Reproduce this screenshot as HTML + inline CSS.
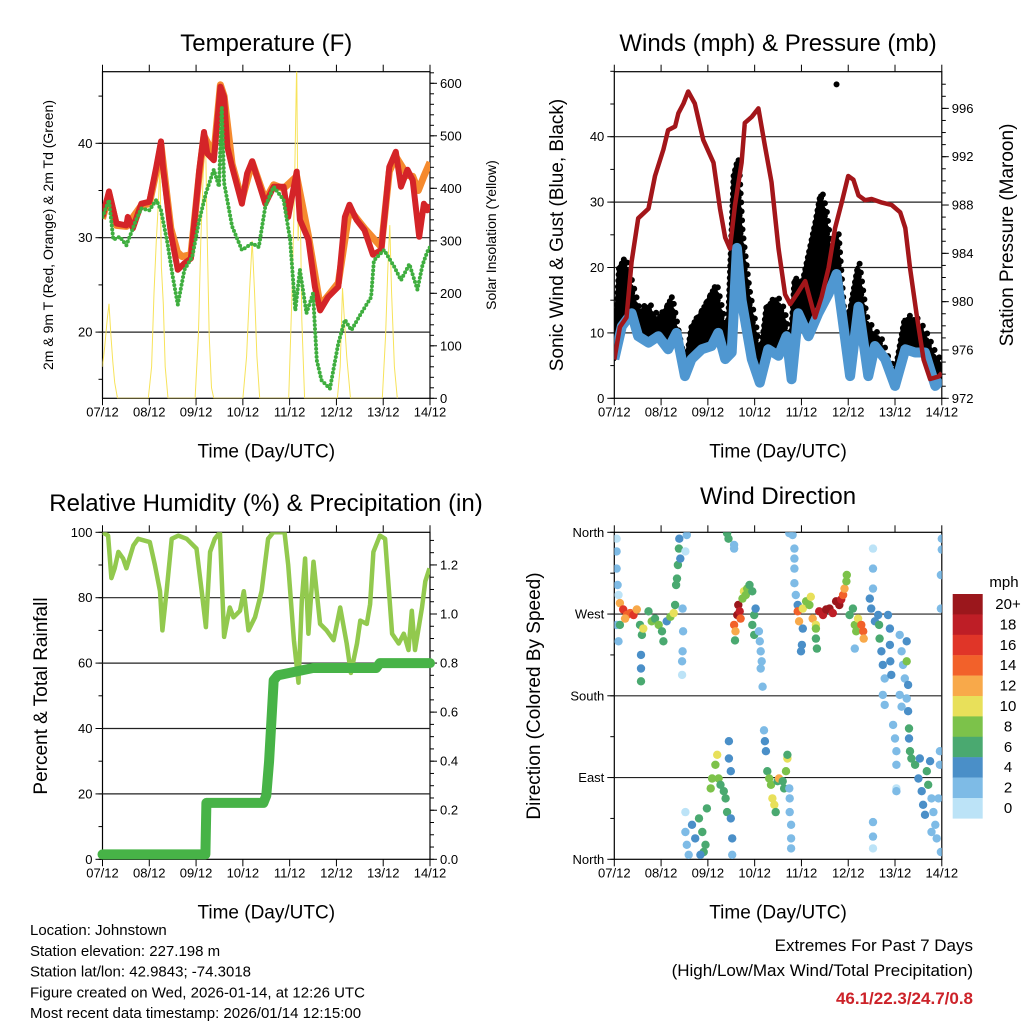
<!DOCTYPE html>
<html><head><meta charset="utf-8"><style>
html,body{margin:0;padding:0;background:#fff;}
svg{display:block;font-family:"Liberation Sans",sans-serif;}
</style></head><body>
<svg id="root" width="1024" height="1024" viewBox="0 0 1024 1024">
<g id="layer"></g>
</svg>
<script>
// ---------- DATA (days since 07/12) ----------
const dayLabels = ["07/12","08/12","09/12","10/12","11/12","12/12","13/12","14/12"];
// Temperature
const t2Days = [0,0.14,0.3,0.51,0.54,0.65,0.83,1.0,1.15,1.25,1.29,1.46,1.61,1.75,1.89,2.07,2.17,2.24,2.38,2.52,2.6,2.67,2.77,2.98,3.09,3.2,3.34,3.48,3.66,3.87,3.97,4.15,4.22,4.4,4.54,4.65,4.82,5.04,5.18,5.28,5.43,5.6,5.78,5.96,6.13,6.27,6.38,6.52,6.63,6.77,6.87,6.94,7.0];
const t2Vals = [32.2,34.9,31.5,31.3,32.2,31.0,33.6,33.8,37.5,40.2,37.5,30.5,26.6,27.3,27.8,37.2,41.2,38.9,38.2,46.0,44.9,39.6,37.5,33.6,36.8,38.1,35.8,33.6,35.4,35.4,32.2,37.0,31.9,29.8,24.8,22.3,23.7,24.8,32.2,33.5,31.9,30.8,28.2,28.7,37.5,39.1,35.4,37.2,36.1,30.1,33.6,32.9,33.5];
const t9Days = [0,0.14,0.3,0.51,0.83,1.0,1.15,1.25,1.46,1.6,1.7,1.89,2.07,2.17,2.38,2.52,2.6,2.77,2.98,3.2,3.48,3.66,3.87,4.15,4.4,4.65,5.04,5.28,5.6,5.96,6.13,6.27,6.52,6.63,6.75,6.87,7.0];
const t9Vals = [32.0,34.6,31.3,31.2,33.4,33.6,37.0,39.8,31.0,28.5,28.0,28.2,36.8,40.8,38.8,46.2,45.0,37.8,34.0,38.0,34.0,35.6,35.2,36.5,30.2,22.8,25.2,33.0,31.0,29.0,37.0,38.6,36.6,36.5,35.0,36.5,38.0];
const tdDays = [0,0.14,0.23,0.37,0.51,0.72,0.83,1.0,1.15,1.25,1.39,1.5,1.61,1.75,1.92,2.07,2.21,2.38,2.49,2.55,2.6,2.77,2.98,3.2,3.34,3.48,3.66,3.87,4.01,4.12,4.22,4.36,4.5,4.58,4.68,4.86,5.04,5.18,5.32,5.53,5.74,5.8,6.02,6.24,6.38,6.56,6.73,6.84,6.94,7.0];
const tdVals = [32.2,34.0,29.8,30.1,29.2,31.9,33.1,32.9,34.0,32.9,29.4,25.9,22.9,26.6,28.0,31.9,34.7,37.2,35.4,43.9,35.8,31.2,28.7,29.4,29.0,33.3,35.4,34.0,29.8,22.3,26.6,22.0,24.1,17.0,14.9,14.0,18.8,21.3,20.2,22.0,23.7,27.6,28.7,26.9,25.5,27.2,24.5,27.1,28.5,29.0];
const solarDays = [0,0.05,0.1,0.14,0.18,0.22,0.26,0.32, 0.98,1.05,1.1,1.15,1.2,1.23,1.26,1.3,1.34,1.4, 1.98,2.05,2.1,2.15,2.2,2.24,2.28,2.33,2.38, 3.0,3.08,3.14,3.2,3.25,3.3,3.36, 3.98,4.05,4.1,4.15,4.18,4.22,4.26,4.32, 5.02,5.08,5.13,5.17,5.22,5.3, 5.98,6.05,6.1,6.14,6.18,6.24,6.3];
const solarVals = [60,100,150,180,120,70,30,0, 0,60,200,300,380,450,250,180,60,0, 0,120,300,420,510,300,120,20,0, 0,80,200,300,200,80,0, 0,200,380,640,300,420,150,0, 0,60,210,150,80,0, 0,120,250,330,200,60,0];
// Winds & pressure
const windDays = [0,0.16,0.37,0.51,0.73,0.94,1.15,1.33,1.51,1.65,1.87,2.08,2.22,2.37,2.51,2.62,2.72,2.94,3.11,3.29,3.51,3.68,3.79,3.93,4.15,4.36,4.58,4.75,4.9,5.04,5.22,5.43,5.57,5.79,6.0,6.22,6.43,6.64,6.86,7.0];
const windVals = [6,11,13,9.5,8.5,9.5,7.5,10,3.4,6,7.5,8,10,6,7,23,15,6,2.4,7.5,6.5,9.5,2.9,13,9.5,13,16,19,11,3.4,14,3.4,8,6,1.9,7.5,7,7,1.9,2.9];
const gustDays = [0,0.1,0.2,0.35,0.5,0.7,0.9,1.05,1.2,1.35,1.5,1.65,1.85,2.0,2.15,2.3,2.42,2.55,2.62,2.7,2.85,3.0,3.1,3.25,3.45,3.6,3.75,3.85,4.0,4.15,4.3,4.4,4.5,4.6,4.75,4.9,5.05,5.2,5.35,5.5,5.65,5.85,6.0,6.2,6.4,6.6,6.85,7.0];
const gustVals = [7,20,21,17,13,14,12,13,15,9,4,11,13,15,17,12,9,34,36,25,16,10,5,14,15,13,6,18,17,22,27,31,28,22,25,10,14,20,12,10,9,5,4,12,12,10,6,5];
const presDays = [0,0.12,0.26,0.37,0.51,0.73,0.87,1.05,1.15,1.3,1.37,1.48,1.58,1.72,1.9,2.12,2.26,2.37,2.47,2.58,2.72,2.79,2.94,3.08,3.22,3.36,3.51,3.65,3.76,3.9,4.08,4.29,4.43,4.58,4.72,4.86,5.0,5.11,5.22,5.36,5.5,5.72,5.93,6.11,6.22,6.32,6.46,6.61,6.75,6.93,7.0];
const presVals = [975.2,977.9,978.7,983.3,986.9,987.7,990.4,992.6,994.2,994.5,995.6,996.4,997.4,996.4,993.4,991.5,987.7,985.3,984.4,988,991.5,994.8,995.3,996,992.9,989.9,984.4,980.6,979.8,980.6,981.7,978.7,980.4,982.8,986.1,988.2,990.4,990.1,988.8,988.4,988.5,988.2,988,987.4,986.1,982.8,979,975.2,973.6,973.8,974.1];
// RH & rain
const rhDays = [0,0.12,0.19,0.26,0.34,0.44,0.51,0.66,0.76,1.01,1.12,1.23,1.28,1.37,1.48,1.62,1.8,2.01,2.12,2.21,2.3,2.4,2.51,2.6,2.72,2.8,2.94,3.02,3.12,3.26,3.4,3.54,3.65,3.89,3.97,4.09,4.19,4.26,4.33,4.4,4.51,4.65,4.79,4.94,5.08,5.22,5.31,5.44,5.51,5.65,5.72,5.79,5.93,6.04,6.19,6.33,6.44,6.54,6.61,6.68,6.83,6.9,6.99];
const rhVals = [100,99,86,89,94,92,89,96,98,97,90,82,70,82,98,99,98,95,82,71,94,98,100,68,77,74,76,82,70,74,82,98,100,100,90,67,54,79,92,69,91,72,70,67,77,66,57,66,73,72,78,94,99,98,69,66,69,64,76,64,77,85,89];
const rainDays = [0,2.2,2.22,3.44,3.5,3.56,3.62,3.66,3.75,4.0,4.5,5.85,5.93,7.0];
const rainVals = [0.02,0.02,0.23,0.23,0.26,0.4,0.6,0.73,0.75,0.76,0.78,0.78,0.8,0.8];
// Wind direction scatter
const dirDays = [0.05,0.05,0.05,0.07,0.09,0.05,0.09,0.12,0.19,0.27,0.34,0.41,0.48,0.12,0.23,0.55,0.59,0.62,0.73,0.8,0.87,0.95,1.02,1.05,1.12,1.2,1.27,1.3,1.32,1.34,1.36,1.38,1.39,1.41,0.57,0.57,0.57,1.46,1.47,1.46,1.45,1.45,1.52,1.55,1.52,1.52,1.55,1.59,1.66,1.73,1.81,1.88,1.91,1.95,1.84,1.98,2.06,2.09,2.16,2.2,2.23,2.27,2.34,2.38,2.41,2.45,2.45,2.49,2.52,2.52,2.49,2.41,2.44,2.56,2.56,2.56,2.59,2.63,2.65,2.68,2.7,2.58,2.74,2.77,2.81,2.84,2.89,2.95,2.99,2.99,2.95,3.02,3.09,3.11,3.13,3.15,3.13,3.17,3.2,3.22,3.24,3.27,3.31,3.35,3.38,3.42,3.45,3.49,3.52,3.6,3.63,3.67,3.7,3.7,3.74,3.75,3.75,3.78,3.78,3.78,3.74,3.81,3.85,3.85,3.85,3.85,3.88,3.92,3.92,3.95,4.03,4.1,4.17,4.2,4.24,4.31,4.38,4.46,4.53,4.6,4.67,4.74,4.81,4.85,4.89,4.92,4.96,4.97,4.03,4.01,4.31,4.33,4.31,3.99,5.03,5.1,5.14,5.17,5.21,5.28,5.32,5.33,5.14,5.46,5.49,5.53,5.53,5.53,5.57,5.64,5.66,5.67,5.71,5.74,5.78,5.74,5.78,5.85,5.89,5.89,5.9,5.92,5.96,6.0,6.03,6.03,6.03,6.03,5.53,5.53,5.53,6.1,6.14,6.17,6.21,6.25,6.25,6.28,6.25,6.28,6.3,6.3,6.1,6.14,6.32,6.35,6.43,6.5,6.53,6.57,6.6,6.64,6.68,6.71,6.75,6.78,6.82,6.86,6.89,6.93,6.96,6.98,6.96,6.78,7.0,7.0,6.98,6.98];
const dirDeg = [353,339,320,302,291,258,240,282,275,269,271,269,275,258,265,258,247,254,273,262,265,258,251,240,262,267,271,280,302,309,324,342,353,331,225,210,196,276,251,229,218,203,339,357,52,30,16,5,38,23,45,30,8,16,5,56,78,89,104,115,89,82,75,67,52,111,130,45,23,5,97,359,353,346,342,258,251,269,280,273,265,241,287,295,291,298,302,295,269,247,258,276,251,240,229,218,210,190,142,130,119,97,89,82,67,60,52,86,89,86,78,97,111,115,78,67,52,38,23,12,359,357,342,331,320,304,291,280,273,262,276,284,280,289,265,258,273,269,275,276,271,284,280,286,291,298,306,313,254,236,243,232,254,229,269,276,258,251,265,258,251,243,232,287,276,298,320,342,262,269,258,243,229,214,199,181,170,269,254,236,218,203,148,133,119,104,78,75,41,25,12,247,229,214,199,240,218,192,177,163,144,133,181,168,119,111,104,89,111,75,60,49,97,82,108,67,52,38,23,67,104,8,119,30,353,341,313,276];
const dirSpeed = [1,2,2,2,1,2,2,13,16,15,14,16,12,6,12,7,6,10,6,8,7,9,7,6,4,9,10,7,7,7,6,6,4,4,4,4,6,2,2,2,2,1,1,2,1,2,2,3,4,5,6,7,7,6,4,6,8,8,9,10,9,6,6,6,6,4,4,4,4,3,4,6,6,2,2,14,12,20,20,19,14,7,9,10,8,9,7,7,6,6,6,5,2,2,2,2,2,2,3,4,4,6,8,8,10,10,7,6,12,6,6,9,10,6,2,2,2,2,2,2,2,3,2,2,2,2,3,5,14,12,10,9,8,10,12,10,18,18,20,20,18,20,20,18,14,12,8,8,4,4,6,6,8,4,6,6,8,8,10,14,14,13,2,4,4,2,2,1,4,4,6,6,4,4,3,2,2,4,4,4,4,4,2,2,2,2,1,2,2,2,1,2,2,2,2,4,8,4,2,4,6,4,2,2,7,6,6,5,4,4,4,4,7,6,4,3,2,2,2,2,2,3,2,3,2,3,2,2];
const legendLabels = ["20+","18","16","14","12","10","8","6","4","2","0"];
const legendColors = ["#9b171c","#be1e26","#e03528","#f2612a","#f8a94a","#e8e05a","#7cc24a","#4aa970","#4a8fc8","#7ebbe6","#bce3f7"];

// ---------- helpers ----------
const NS="http://www.w3.org/2000/svg";
const layer=document.getElementById('layer');
function mk(tag,attrs,parent){const e=document.createElementNS(NS,tag);for(const k in attrs)e.setAttribute(k,attrs[k]);(parent||layer).appendChild(e);return e;}
function txt(s,x,y,size,anchor,parent,extra){const e=mk('text',Object.assign({x:x,y:y,'font-size':size,'text-anchor':anchor||'middle',fill:'#000'},extra||{}),parent);e.textContent=s;return e;}
const X0L=102.5,X0R=614.3,W=327.5,TOP1=71.7,BOT1=398.3,TOP2=532.3,BOT2=859.3;
const DAYW=W/7;
function clip(id,x,y,w,h){const d=mk('clipPath',{id:id});mk('rect',{x:x,y:y,width:w,height:h},d);}
clip('c1',X0L,TOP1,W,BOT1-TOP1);clip('c2',X0R,TOP1,W,BOT1-TOP1);clip('c3',X0L,TOP2,W,BOT2-TOP2);clip('c4',X0R,TOP2,W,BOT2-TOP2);
function pts(days,vals,fx,fy){return days.map((d,i)=>fx(d).toFixed(1)+','+fy(vals[i]).toFixed(1)).join(' ');}
function frame(x0,top,bot,name){
  const g=mk('g',{});
  
  
  mk('rect',{x:x0,y:top,width:W,height:bot-top,fill:'none',stroke:'#000','stroke-width':1.2},g);
  for(let i=0;i<=7;i++){const x=x0+i*DAYW;
    mk('line',{x1:x,y1:bot,x2:x,y2:bot+7,stroke:'#000'},g);
    mk('line',{x1:x,y1:top,x2:x,y2:top-7,stroke:'#000'},g);
    const t=txt(dayLabels[i],x,bot+18,13,'middle',g);
    
    }
  const xt=txt('Time (Day/UTC)',x0+W/2,bot+59,19,'middle',g);
  
  
  return g;}
function yAxis(g,x0,side,fy,majors,labels,minors){
  const dir=side==='left'?-1:1;const xa=side==='left'?x0:x0+W;
  minors.forEach(v=>{const y=fy(v);mk('line',{x1:xa,y1:y,x2:xa+dir*4,y2:y,stroke:'#000'},g);});
  majors.forEach((v,i)=>{const y=fy(v);mk('line',{x1:xa,y1:y,x2:xa+dir*7,y2:y,stroke:'#000'},g);
    const t=txt(labels[i],xa+dir*10,y+4.5,13,side==='left'?'end':'start',g);
    
    });}
function grid(g,x0,fy,vals){vals.forEach(v=>{const y=fy(v);mk('line',{x1:x0,y1:y,x2:x0+W,y2:y,stroke:'#222','stroke-width':1.2},g);});}
function range(a,b,s){const r=[];for(let v=a;v<=b+1e-9;v+=s)r.push(+v.toFixed(4));return r;}
function vtitle(s,x,y,size){const t=txt(s,x,y,size,'middle',null,{transform:'rotate(-90 '+x+' '+y+')'});return t;}

// ---------- Panel 1: temperature ----------
{
const fx=d=>X0L+d*DAYW, fy=t=>237.7-(t-30)*9.44, fs=s=>BOT1-s*0.525;
const g=frame(X0L,TOP1,BOT1,'temperature');
grid(g,X0L,fy,[20,30,40]);
yAxis(g,X0L,'left',fy,[20,30,40],['20','30','40'],range(15,45,5));
yAxis(g,X0L,'right',fs,range(0,600,100),range(0,600,100).map(String),range(0,620,20));
const p=mk('g',{'clip-path':'url(#c1)'});
const s=mk('polyline',{points:pts(solarDays,solarVals,fx,fs),fill:'none',stroke:'#f7e35a','stroke-width':1},p);


const o=mk('polyline',{points:pts(t9Days,t9Vals,fx,fy),fill:'none',stroke:'#f58a2e','stroke-width':7,'stroke-linejoin':'round'},p);


const r=mk('polyline',{points:pts(t2Days,t2Vals,fx,fy),fill:'none',stroke:'#d42428','stroke-width':6,'stroke-linejoin':'round'},p);


const d=mk('polyline',{points:pts(tdDays,tdVals,fx,fy),fill:'none',stroke:'#3fae3f','stroke-width':4,'stroke-dasharray':'0 4','stroke-linecap':'round'},p);


const t=txt('Temperature (F)',X0L+W/2,51,24);


const a=vtitle('2m & 9m T (Red, Orange) & 2m Td (Green)',53,235,14);


const b=vtitle('Solar Insolation (Yellow)',496,235,14);


}
// ---------- Panel 2: winds ----------
{
const fx=d=>X0R+d*DAYW, fy=w=>BOT1-w*6.54, fp=p=>BOT1-(p-972)*12.08;
const g=frame(X0R,TOP1,BOT1,'winds');
grid(g,X0R,fy,[10,20,30,40]);
yAxis(g,X0R,'left',fy,[0,10,20,30,40],['0','10','20','30','40'],range(0,50,5));
yAxis(g,X0R,'right',fp,range(972,996,4),range(972,996,4).map(String),range(972,998,1));
const p=mk('g',{'clip-path':'url(#c2)'});
const band=pts(gustDays,gustVals,fx,fy)+' '+windDays.slice().reverse().map((d,i)=>fx(d).toFixed(1)+','+fy(windVals[windVals.length-1-i]).toFixed(1)).join(' ');
const gb=mk('polygon',{points:band,fill:'#000',stroke:'#000','stroke-width':4,'stroke-linejoin':'round'},p);


const gd=mk('polyline',{points:pts(gustDays,gustVals,fx,fy),fill:'none',stroke:'#000','stroke-width':6,'stroke-dasharray':'0 6','stroke-linecap':'round'},p);


const gd2=mk('polyline',{points:pts(gustDays,gustVals,fx,fy),fill:'none',stroke:'#000','stroke-width':6,'stroke-dasharray':'0 9','stroke-linecap':'round',transform:'translate(2,-4)'},p);


const out=mk('circle',{cx:fx(4.75),cy:fy(48),r:3,fill:'#000'},p);


const w=mk('polyline',{points:pts(windDays,windVals,fx,fy),fill:'none',stroke:'#4f97d1','stroke-width':10,'stroke-linejoin':'round'},p);


const pr=mk('polyline',{points:pts(presDays,presVals,fx,fp),fill:'none',stroke:'#a3161a','stroke-width':4.5,'stroke-linejoin':'round'},p);


const t=txt('Winds (mph) & Pressure (mb)',X0R+W/2,51,24);


const a=vtitle('Sonic Wind & Gust (Blue, Black)',563,235,19);


const b=vtitle('Station Pressure (Maroon)',1013,235,19);


}
// ---------- Panel 3: RH & precip ----------
{
const fx=d=>X0L+d*DAYW, fy=h=>BOT2-h*3.27, fr=r=>BOT2-r*245.3;
const g=frame(X0L,TOP2,BOT2,'humidity');
grid(g,X0L,fy,[20,40,60,80]);
yAxis(g,X0L,'left',fy,range(0,100,20),range(0,100,20).map(String),range(0,100,10));
const rl=range(0,1.2,0.2);
yAxis(g,X0L,'right',fr,rl,rl.map(v=>v.toFixed(1)),range(0,1.32,0.05));
const p=mk('g',{'clip-path':'url(#c3)'});
const rh=mk('polyline',{points:pts(rhDays,rhVals,fx,fy),fill:'none',stroke:'#92c94e','stroke-width':4.5,'stroke-linejoin':'round'},p);


const p2=mk('g',{});
const rn=mk('polyline',{points:pts(rainDays,rainVals,fx,fr),fill:'none',stroke:'#47b347','stroke-width':10,'stroke-linejoin':'round','stroke-linecap':'round'},p2);


const t=txt('Relative Humidity (%) & Precipitation (in)',266,511,24);


const a=vtitle('Percent & Total Rainfall',47,696,19);


}
// ---------- Panel 4: wind direction ----------
{
const fx=d=>X0R+d*DAYW, fy=a=>BOT2-a*(BOT2-TOP2)/360;
const g=frame(X0R,TOP2,BOT2,'wind-direction');
grid(g,X0R,fy,[90,180,270]);
yAxis(g,X0R,'left',fy,[0,90,180,270,360],['North','East','South','West','North'],range(0,360,45));
const p=mk('g',{'clip-path':'url(#c4)'});
dirDays.forEach((d,i)=>{
  const idx=Math.max(0,10-Math.min(10,Math.floor(dirSpeed[i]/2)));
  const c=mk('circle',{cx:fx(d).toFixed(1),cy:fy(dirDeg[i]).toFixed(1),r:4.2,fill:legendColors[idx]},p);
  
  
});
const t=txt('Wind Direction',X0R+W/2,504,24);


const a=vtitle('Direction (Colored By Speed)',540,696,19);


const lg=mk('g',{});


txt('mph',1004,587,15,'middle',lg);
legendLabels.forEach((l,i)=>{
  const y=594+i*20.4;
  const r=mk('rect',{x:952.7,y:y,width:30,height:20.6,fill:legendColors[i]},lg);
  
  
  const tt=txt(l,1008,y+15,15,'middle',lg);
  
  
});
}
// ---------- footer text ----------
const info=["Location: Johnstown","Station elevation: 227.198 m","Station lat/lon: 42.9843; -74.3018","Figure created on Wed, 2026-01-14, at 12:26 UTC","Most recent data timestamp: 2026/01/14 12:15:00"];
info.forEach((s,i)=>{const t=txt(s,30,935+i*20.8,15,'start');
  
  });
const e1=txt('Extremes For Past 7 Days',973,951,17,'end');


const e2=txt('(High/Low/Max Wind/Total Precipitation)',973,976,17,'end');


const e3=txt('46.1/22.3/24.7/0.8',973,1004,17,'end',null,{fill:'#cc2229','font-weight':'bold'});


</script>
</body></html>
